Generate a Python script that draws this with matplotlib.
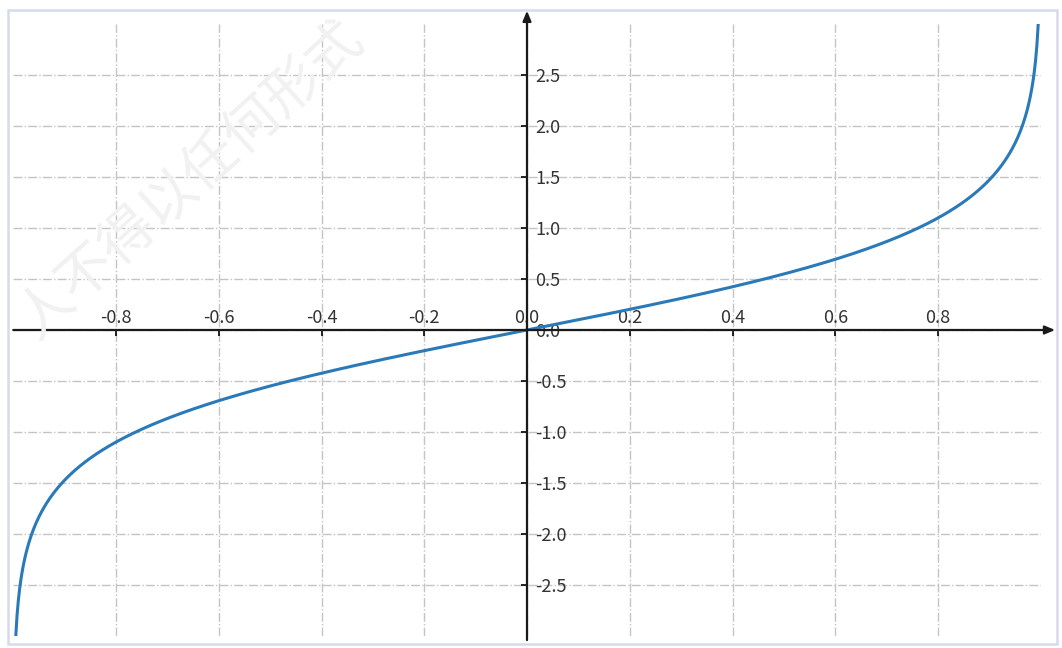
import numpy as np
import matplotlib
matplotlib.use("Agg")
import matplotlib.pyplot as plt
from matplotlib.patches import Rectangle

plt.rcParams['font.family'] = ['Noto Sans CJK SC', 'DejaVu Sans']
plt.rcParams['axes.unicode_minus'] = False

# curve: y = artanh(x)
x_start, x_end = -0.995, 0.995
x = np.linspace(x_start, x_end, 800)
y = np.arctanh(x)

x_ticks = [-0.8, -0.6, -0.4, -0.2, 0.0, 0.2, 0.4, 0.6, 0.8]
y_ticks = [-2.5, -2.0, -1.5, -1.0, -0.5, 0.0, 0.5, 1.0, 1.5, 2.0, 2.5]
watermark = "人不得以任何形式"

fig = plt.figure(figsize=(10.62, 6.48), dpi=100)
ax = fig.add_axes([13.25 / 1062, 12 / 648, 1027.5 / 1062, 612 / 648])

ax.plot(x, y, color='#2a7ab9', linewidth=2.2, zorder=3)

ax.set_xlim(-1, 1)
ax.set_ylim(-3, 3)
ax.set_xticks(x_ticks)
ax.set_yticks(y_ticks)
ax.set_xticklabels([f"{v:.1f}" for v in x_ticks])
ax.set_yticklabels([f"{v:.1f}" for v in y_ticks])

# axes through the origin
for side in ['top', 'right']:
    ax.spines[side].set_visible(False)
ax.spines['bottom'].set_position(('data', 0))
ax.spines['left'].set_position(('data', 0))
ax.spines['bottom'].set_visible(False)
ax.spines['left'].set_visible(False)

ax.grid(True, color='#c4c4c4', linestyle='-.', linewidth=1.0, zorder=0)

ax.tick_params(axis='x', direction='out', length=4, width=1.2, pad=-19,
               labelsize=13, labelcolor='#333333')
ax.tick_params(axis='y', direction='out', length=4, width=1.2, pad=-10,
               labelsize=13, labelcolor='#333333')
plt.setp(ax.get_yticklabels(), ha='left')

# axis lines with arrow heads
arrow = dict(arrowstyle='-|>,head_length=0.6,head_width=0.25',
             color='#1a1a1a', linewidth=1.6, shrinkA=0, shrinkB=0)
ax.annotate('', xy=(1.028, 0), xytext=(-1.0, 0), arrowprops=arrow,
            annotation_clip=False, zorder=4)
ax.annotate('', xy=(0, 3.13), xytext=(0, -3.04), arrowprops=arrow,
            annotation_clip=False, zorder=4)

# faint watermark
fig.text(0.006, 0.46, watermark, rotation=42, fontsize=40, color='#f1f1f1',
         fontweight='light', ha='left', va='bottom', zorder=0)

# frame around the picture
fig.patches.append(Rectangle((8 / 1062, 4 / 648), 1049 / 1062, 634 / 648,
                             transform=fig.transFigure, fill=False,
                             edgecolor='#d6dbe8', linewidth=1.8))

fig.savefig("out.png", dpi=100)
